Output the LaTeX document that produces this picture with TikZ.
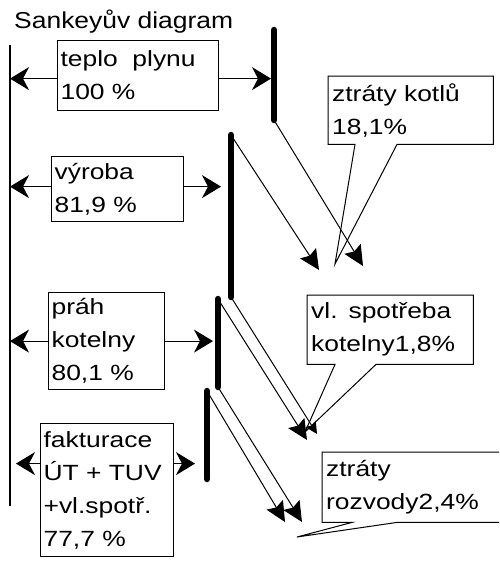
\documentclass[tikz,border=0pt]{standalone}
\usepackage{fontspec}
\setmainfont{Liberation Sans}[FakeStretch=1.2]
\newfontfamily\titlefont{Liberation Sans}[FakeStretch=1.15]
\usetikzlibrary{arrows.meta,calc}

\begin{document}
\begin{tikzpicture}[x=1pt, y=-1pt,
    flow/.style={-{Stealth[length=19pt, width=23pt, inset=6pt]}, line width=1pt},
    loss/.style={-{Stealth[length=20pt, width=19pt, inset=3pt]}, line width=1pt},
    lossb/.style={-{Stealth[length=12pt, width=12pt, inset=2pt]}, line width=1pt},
    bar/.style={line width=6.5pt, line cap=round},
    box/.style={draw, line width=1.2pt, anchor=north west, align=left,
                inner xsep=3pt, inner ysep=2pt, font=\fontsize{22}{33}\selectfont},
    note/.style={anchor=north west, align=left, inner xsep=4pt, inner ysep=2pt,
                 font=\fontsize{22}{33}\selectfont},
    ptr/.style={line width=1pt, line join=miter},
  ]
  \clip (0,0) rectangle (499,566);

  % --- title and spine ---
  \node[anchor=base west, inner sep=0pt, font=\titlefont\fontsize{23}{26}\selectfont]
    (title) at (14,28) {Sankeyův diagram};
  \coordinate (spine) at (10,45);
  \coordinate (spineend) at (10,506);
  \draw[line width=2pt] (spine) -- (spineend);

  % --- bar ends ---
  \coordinate (b1t) at (274,30);  \coordinate (b1b) at (274,120);
  \coordinate (b2t) at (231,135); \coordinate (b2b) at (231,297);
  \coordinate (b3t) at (218,299); \coordinate (b3b) at (218,387);
  \coordinate (b4t) at (207,391); \coordinate (b4b) at (207,479);

  % --- loss tips ---
  \coordinate (l1) at (363,266); \coordinate (l2) at (319,270);
  \coordinate (l3) at (317,434); \coordinate (l4) at (307,440);
  \coordinate (l5) at (302,522); \coordinate (l6) at (285,522);

  % --- loss flows ---
  \draw[loss] (b1b) -- (l1);
  \draw[loss] (b2t) -- (l2);
  \draw[lossb] (b2b) -- (l3);
  \draw[loss] (b3t) -- (l4);
  \draw[loss] (b3b) -- (l5);
  \draw[loss] (b4t) -- (l6);

  % --- bars ---
  \draw[bar] (b1t) -- (b1b);
  \draw[bar] (b2t) -- (b2b);
  \draw[bar] (b3t) -- (b3b);
  \draw[bar] (b4t) -- (b4b);

  % --- stage boxes ---
  \node[box, text width=155pt, minimum height=70pt] (teplo) at (57,40)
    {teplo\ \ plynu\\100 \%};
  \node[box, text width=126pt, minimum height=65pt] (vyroba) at (51,156)
    {výroba\\81,9 \%};
  \node[box, text width=110pt, minimum height=97pt] (prah) at (48,292)
    {práh\\kotelny\\80,1 \%};
  \node[box, text width=127pt, minimum height=133pt] (faktur) at (40,423)
    {fakturace\\ÚT + TUV\\+vl.spotř.\\77,7 \%};

  % --- arrows to spine and bars ---
  \draw[flow] ([yshift=-3pt]teplo.west) -- ([yshift=-3pt]teplo.west -| spine);
  \draw[flow, shorten >=3pt] ([yshift=-3pt]teplo.east) -- ([yshift=-3pt]teplo.east -| b1t);
  \draw[flow] ([yshift=2.5pt]vyroba.west) -- ([yshift=2.5pt]vyroba.west -| spine);
  \draw[flow, shorten >=10pt] ([yshift=2.5pt]vyroba.east) -- ([yshift=2.5pt]vyroba.east -| b2t);
  \draw[flow] (prah.west) -- (prah.west -| spine);
  \draw[flow, shorten >=5pt] (prah.east) -- (prah.east -| b3t);
  \draw[flow, shorten >=6pt] ([yshift=26.5pt]faktur.west) -- ([yshift=26.5pt]faktur.west -| spine);
  \draw[flow, shorten >=12pt] ([yshift=26.5pt]faktur.east) -- ([yshift=26.5pt]faktur.east -| b4t);

  % --- loss callouts ---
  \node[note, text width=157pt, minimum height=68pt] (kotlu) at (328,76)
    {ztráty kotlů\\18,1\%};
  \coordinate (k1) at (335,264);
  \draw[ptr] (kotlu.north west) -- (kotlu.north east) -- (kotlu.south east)
    -- ($(kotlu.south west)+(69,0)$) -- (k1) -- ($(kotlu.south west)+(27,0)$)
    -- (kotlu.south west) -- cycle;

  \node[note, text width=158pt, minimum height=69pt] (spotreba) at (307,295)
    {vl. spotřeba\\kotelny1,8\%};
  \coordinate (k2) at (305,432);
  \draw[ptr] (spotreba.north west) -- (spotreba.north east) -- (spotreba.south east)
    -- ($(spotreba.south west)+(69,0)$) -- (k2) -- ($(spotreba.south west)+(28,0)$)
    -- (spotreba.south west) -- cycle;

  \node[note, text width=192pt, minimum height=70pt] (rozvody) at (322,452)
    {ztráty\\rozvody2,4\%};
  \coordinate (k3) at (297,537);
  \draw[ptr] (rozvody.north west) -- (rozvody.north east) -- (rozvody.south east)
    -- ($(rozvody.south west)+(75,0)$) -- (k3) -- ($(rozvody.south west)+(30,0)$)
    -- (rozvody.south west) -- cycle;
\end{tikzpicture}
\end{document}
